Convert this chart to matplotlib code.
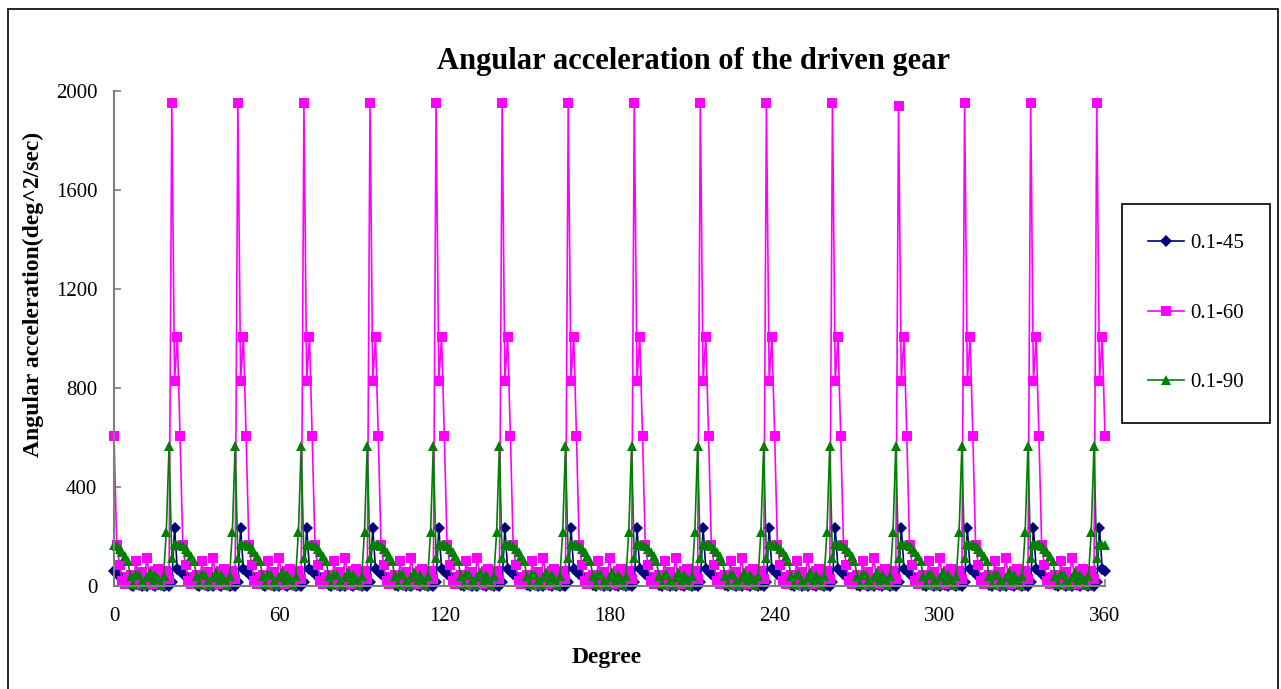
import numpy as np
import matplotlib
matplotlib.use('Agg')
import matplotlib.pyplot as plt
from matplotlib.patches import Rectangle
from matplotlib.lines import Line2D

plt.rcParams['font.family'] = ['Liberation Serif', 'DejaVu Serif']

# one sampling per degree, the pattern repeats every 24 degrees (15 cycles)
degrees = np.arange(0, 361)
n_cycles = 15

blue_cycle = [60, 50, 40, 30, 20, 12, 5, 2, 8, 3, 0, 6, 2, 10, 4, 1, 7, 3, 0, 5, 2, 15, 235, 68]
pink_cycle = [605, 165, 85, 20, 10, 35, 45, 15, 100, 5, 55, 30, 115, 25, 10, 60, 70, 20, 45, 60, 30, None, 830, 1005]
green_cycle = [165, 160, 150, 138, 120, 100, 40, 10, 50, 45, 20, 5, 35, 55, 15, 45, 30, 5, 40, 220, 565, 112, 170, 165]

# peak of the 0.1-60 curve in each cycle
pink_peaks = [1950, 1950, 1950, 1950, 1950, 1950, 1950, 1950,
              1950, 1950, 1950, 1940, 1950, 1950, 1950]

labels = ['0.1-45', '0.1-60', '0.1-90']
colors = ['#000080', '#FF00FF', '#008000']
markers = ['D', 's', '^']


def build(cycle, peaks=None):
    vals = []
    for k in range(n_cycles):
        c = list(cycle)
        if peaks is not None:
            c = [peaks[k] if v is None else v for v in c]
        vals.extend(c)
    vals.append(cycle[0])
    return np.array(vals, dtype=float)


blue = build(blue_cycle)
pink = build(pink_cycle, pink_peaks)
green = build(green_cycle)

W, H = 1281, 689
fig = plt.figure(figsize=(W / 100, H / 100), dpi=100)
ax = fig.add_axes([114 / W, 1 - 586 / H, (1105 - 114) / W, (586 - 91) / H])

for y, lab, col, mk, ms in zip([blue, pink, green], labels, colors, markers, [6.5, 6.5, 7.5]):
    ax.plot(degrees, y, color=col, marker=mk, markersize=ms, linewidth=1.2,
            markeredgewidth=0, label=lab, clip_on=False)

ax.set_xlim(0, 360)
ax.set_ylim(0, 2000)
ax.set_xticks(range(0, 361, 60))
ax.set_yticks(range(0, 2001, 400))
for s in ['top', 'right']:
    ax.spines[s].set_visible(False)
for s in ['left', 'bottom']:
    ax.spines[s].set_color('#7f7f7f')
    ax.spines[s].set_linewidth(1.5)
ax.tick_params(axis='both', direction='in', length=5, color='#7f7f7f', width=1.2, labelsize=15)
ax.tick_params(axis='y', pad=12)
ax.tick_params(axis='x', pad=15)

fig.text(694 / W, 1 - 62 / H, 'Angular acceleration of the driven gear',
         ha='center', va='center', fontsize=22, fontweight='bold')
fig.text(33 / W, 1 - 294 / H, 'Angular acceleration(deg^2/sec)', rotation=90,
         ha='center', va='center', fontsize=17, fontweight='bold')
fig.text(607 / W, 1 - 657 / H, 'Degree', ha='center', va='center',
         fontsize=17, fontweight='bold')

# outer chart border
fig.patches.append(Rectangle((8 / W, -0.05), (1278 - 8) / W, 1.05 - 9 / H,
                             transform=fig.transFigure, fill=False,
                             edgecolor='black', linewidth=1.2))
# legend box
fig.patches.append(Rectangle((1122 / W, 1 - 423 / H), (1270 - 1122) / W, (423 - 204) / H,
                             transform=fig.transFigure, fill=False,
                             edgecolor='black', linewidth=1.2))

handles = [Line2D([], [], color=c, marker=m, markersize=6.5, linewidth=1.2, markeredgewidth=0)
           for c, m in zip(colors, markers)]
fig.legend(handles, labels, loc='center', bbox_to_anchor=(1196 / W, 1 - 313 / H),
           frameon=False, fontsize=15, labelspacing=2.4, handlelength=1.75,
           handletextpad=0.3)

fig.savefig('out.png', dpi=100)
